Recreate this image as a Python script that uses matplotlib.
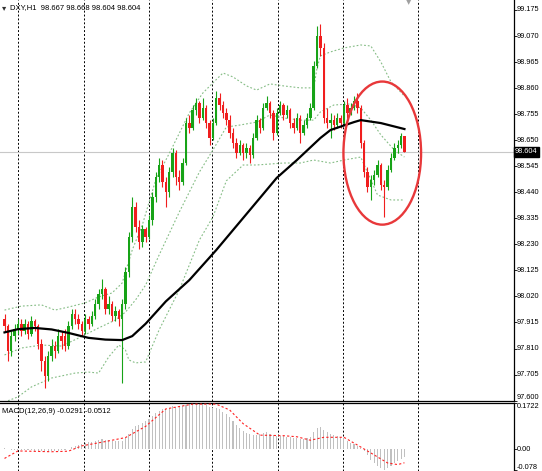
import matplotlib
matplotlib.use("Agg")
import matplotlib.pyplot as plt
import matplotlib.transforms as mtransforms
from matplotlib.patches import Ellipse
import numpy as np

# ---------------- data ----------------
opens = [97.93,97.90,97.80,97.86,97.89,97.91,97.88,97.91,97.87,97.92,
         97.90,97.83,97.76,97.70,97.78,97.82,97.80,97.86,97.86,97.82,
         97.90,97.95,97.93,97.91,97.88,97.93,97.91,97.94,97.99,98.03,
         98.05,97.97,97.99,97.94,97.96,97.93,97.99,98.12,98.26,98.38,
         98.30,98.24,98.29,98.26,98.33,98.42,98.50,98.55,98.48,98.44,
         98.52,98.60,98.50,98.48,98.56,98.72,98.70,98.77,98.80,98.74,
         98.78,98.72,98.66,98.72,98.82,98.79,98.76,98.73,98.68,98.64,
         98.60,98.63,98.60,98.62,98.59,98.66,98.73,98.70,98.78,98.80,
         98.76,98.68,98.76,98.79,98.75,98.77,98.72,98.70,98.74,98.68,
         98.71,98.74,98.78,98.95,99.07,99.02,98.74,98.72,98.73,98.71,
         98.74,98.72,98.79,98.76,98.78,98.81,98.78,98.64,98.52,98.46,
         98.49,98.51,98.55,98.47,98.46,98.53,98.58,98.62,98.63,98.667]
highs = [97.95,97.91,97.88,97.91,97.93,97.93,97.93,97.92,97.94,97.93,
         97.91,97.85,97.78,97.80,97.85,97.84,97.89,97.88,97.89,97.92,
         97.97,97.97,97.95,97.92,97.95,97.94,97.96,98.01,98.05,98.09,
         98.06,98.02,98.00,97.98,97.97,98.01,98.14,98.28,98.42,98.40,
         98.33,98.31,98.30,98.35,98.44,98.52,98.58,98.57,98.50,98.54,
         98.62,98.61,98.53,98.58,98.74,98.75,98.79,98.82,98.81,98.82,
         98.79,98.73,98.74,98.85,98.84,98.81,98.78,98.75,98.70,98.66,
         98.65,98.64,98.64,98.63,98.68,98.75,98.74,98.80,98.83,98.81,
         98.77,98.78,98.81,98.80,98.79,98.78,98.74,98.76,98.75,98.73,
         98.76,98.80,98.97,99.11,99.12,99.04,98.78,98.76,98.75,98.76,
         98.75,98.81,98.82,98.80,98.83,98.84,98.79,98.65,98.54,98.51,
         98.53,98.57,98.56,98.49,98.55,98.60,98.64,98.65,98.68,98.668]
lows = [97.88,97.76,97.78,97.84,97.87,97.86,97.87,97.85,97.86,97.88,
        97.81,97.72,97.65,97.68,97.76,97.77,97.79,97.81,97.80,97.81,
        97.89,97.91,97.89,97.86,97.87,97.89,97.90,97.93,97.97,98.01,
        97.95,97.95,97.92,97.92,97.90,97.67,97.97,98.10,98.24,98.28,
        98.21,98.22,98.24,98.25,98.31,98.40,98.48,98.46,98.38,98.42,
        98.50,98.47,98.45,98.47,98.55,98.68,98.69,98.75,98.72,98.73,
        98.70,98.63,98.65,98.71,98.77,98.74,98.71,98.66,98.62,98.58,
        98.59,98.57,98.58,98.56,98.58,98.65,98.68,98.69,98.77,98.74,
        98.65,98.67,98.75,98.73,98.74,98.70,98.68,98.69,98.64,98.67,
        98.70,98.73,98.77,98.94,98.99,98.72,98.70,98.66,98.69,98.70,
        98.70,98.71,98.74,98.75,98.77,98.76,98.62,98.50,98.44,98.41,
        98.47,98.50,98.45,98.34,98.45,98.52,98.57,98.60,98.62,98.604]
closes = [97.90,97.80,97.86,97.89,97.91,97.88,97.91,97.87,97.92,97.90,
          97.83,97.76,97.70,97.78,97.82,97.80,97.86,97.84,97.82,97.90,
          97.95,97.93,97.91,97.88,97.93,97.91,97.94,97.99,98.03,98.05,
          97.97,97.99,97.94,97.96,97.93,97.99,98.12,98.26,98.38,98.30,
          98.24,98.29,98.26,98.33,98.42,98.50,98.55,98.48,98.44,98.52,
          98.60,98.50,98.48,98.56,98.72,98.70,98.77,98.80,98.74,98.78,
          98.72,98.66,98.72,98.82,98.79,98.76,98.73,98.68,98.64,98.60,
          98.63,98.60,98.62,98.59,98.66,98.73,98.70,98.78,98.80,98.76,
          98.68,98.76,98.79,98.75,98.77,98.72,98.70,98.74,98.68,98.71,
          98.74,98.78,98.95,99.07,99.02,98.74,98.72,98.73,98.71,98.74,
          98.72,98.79,98.76,98.78,98.81,98.78,98.64,98.52,98.46,98.49,
          98.51,98.55,98.47,98.46,98.53,98.58,98.62,98.63,98.667,98.604]

# moving average (black), read at sample bars
ma_idx = [0, 4, 9, 14, 19, 25, 30, 35, 38, 42, 48, 55, 63, 70, 76, 81, 87, 94, 97, 104, 106, 112, 119]
ma_val = [97.875, 97.888, 97.893, 97.887, 97.873, 97.853, 97.846, 97.844, 97.860, 97.910,
          98.000, 98.086, 98.207, 98.320, 98.417, 98.498, 98.570, 98.659, 98.691, 98.723,
          98.731, 98.719, 98.695]

# Bollinger bands (dotted green), read at sample bars
up_idx = [0, 5, 11, 15, 19, 24, 28, 32, 35, 38, 41, 45, 50, 55, 59, 62, 65, 68, 72, 75,
          79, 83, 88, 92, 93, 94, 97, 101, 106, 109, 112, 115, 119]
up_val = [97.965, 97.981, 97.986, 97.965, 97.977, 97.994, 98.018, 98.034, 98.074, 98.207,
          98.308, 98.490, 98.623, 98.760, 98.840, 98.881, 98.921, 98.905, 98.869, 98.852,
          98.877, 98.869, 98.861, 98.861, 98.941, 98.990, 99.006, 99.022, 99.034, 99.030,
          98.965, 98.885, 98.828]
mid_idx = [0, 5, 11, 17, 22, 28, 33, 36, 39, 42, 46, 52, 58, 62, 66, 70, 75, 79, 83, 88,
           92, 94, 98, 103, 106, 109, 112, 116, 119]
mid_val = [97.784, 97.812, 97.824, 97.820, 97.852, 97.893, 97.925, 97.957, 98.006, 98.066,
           98.187, 98.360, 98.522, 98.610, 98.703, 98.711, 98.723, 98.752, 98.740, 98.731,
           98.731, 98.764, 98.792, 98.796, 98.780, 98.731, 98.671, 98.610, 98.582]
lo_idx = [0, 4, 8, 14, 21, 25, 28, 31, 34, 36, 37, 39, 42, 46, 52, 58, 62, 66, 71, 75,
          83, 88, 92, 97, 101, 106, 109, 111, 115, 119]
lo_val = [97.594, 97.615, 97.655, 97.691, 97.711, 97.715, 97.711, 97.776, 97.824, 97.804,
          97.764, 97.752, 97.756, 97.885, 98.046, 98.248, 98.340, 98.486, 98.550, 98.550,
          98.558, 98.558, 98.570, 98.558, 98.570, 98.582, 98.490, 98.429, 98.409, 98.409]

# MACD main (histogram) per bar and signal line at sample bars
macd_hist = [0.004, 0.002, -0.002, -0.003,
             -0.004, -0.003, -0.002, -0.004, -0.005, -0.006, -0.007, -0.009, -0.012, -0.011,
             -0.009, -0.008, -0.006, -0.004, -0.002, 0.001,
             0.006, 0.010, 0.014, 0.018,
             0.022, 0.025, 0.028, 0.031, 0.034, 0.037, 0.035, 0.034, 0.032, 0.031, 0.029, 0.030,
             0.040, 0.058, 0.076, 0.085, 0.090, 0.097, 0.104, 0.112,
             0.122, 0.133, 0.143, 0.148, 0.150,
             0.154, 0.160, 0.158, 0.156, 0.160, 0.166, 0.169, 0.171, 0.172, 0.170, 0.168, 0.164,
             0.158, 0.154, 0.152, 0.148,
             0.140, 0.130, 0.118, 0.104, 0.090, 0.078,
             0.068, 0.060, 0.055, 0.053, 0.054,
             0.056, 0.060, 0.062, 0.058, 0.052, 0.050, 0.050, 0.048, 0.046, 0.044, 0.042, 0.041,
             0.038, 0.038, 0.040,
             0.046, 0.062, 0.078, 0.082, 0.072, 0.064,
             0.058, 0.052, 0.048, 0.044, 0.040, 0.030, 0.024, 0.018, 0.012, 0.004,
             -0.006, -0.024, -0.040, -0.053, -0.063, -0.071, -0.078,
             -0.072, -0.063, -0.053, -0.044, -0.036, -0.0291]
sig_idx = [0, 4, 14, 19, 23, 30, 36, 42, 48, 56, 63, 67, 71, 76, 83, 87, 91, 95, 101, 105,
           110, 114, 117, 119]
sig_val = [-0.035, -0.007, -0.010, -0.008, 0.012, 0.028, 0.043, 0.085, 0.150, 0.168,
           0.168, 0.146, 0.095, 0.052, 0.050, 0.046, 0.033, 0.044, 0.044, 0.015,
           -0.022, -0.052, -0.058, -0.0512]

price_ticks = [99.175, 99.070, 98.965, 98.860, 98.755, 98.650, 98.545, 98.440,
               98.335, 98.230, 98.125, 98.020, 97.915, 97.810, 97.705, 97.600]
macd_ticks = [0.1722, 0.00, -0.078]
macd_tick_labels = ["0.1722", "0.00", "-0.078"]
grid_bars = [4.1, 23.7, 43.1, 61.7, 81.3, 100.6, 123.0]
last_price = 98.604
title_text = "DXY,H1  98.667 98.668 98.604 98.604"
macd_title = "MACD(12,26,9) -0.0291 -0.0512"

# ---------------- figure ----------------
FONT = ["Liberation Sans", "DejaVu Sans"]
plt.rcParams["font.family"] = FONT
FS = 5.3
fig = plt.figure(figsize=(5.42, 4.71), dpi=100)
ax = fig.add_axes([0, 70 / 471, 514 / 542, 401 / 471])
mx = fig.add_axes([0, 0, 514 / 542, 68 / 471])

XL = (-1.34, 151.6)
o = np.array(opens); h = np.array(highs); l = np.array(lows); c = np.array(closes)
x = np.arange(len(c))
up = c >= o
GREEN = "#17a317"
RED = "#f01e1e"
cols = np.where(up, GREEN, RED)

# grid
for gb in grid_bars:
    for a in (ax, mx):
        a.axvline(gb, color="black", lw=0.7, ls=(0, (2, 2)), zorder=0)

# current price line
ax.axhline(last_price, color="#c8c8c8", lw=0.8, zorder=1)

# candles
ax.vlines(x, l, h, colors=cols, lw=0.8, zorder=3)
body = np.maximum(np.abs(c - o), 0.004)
ax.bar(x, body, bottom=np.minimum(o, c), width=0.72, color=cols, lw=0, zorder=4)

# bands
for bi, bv in ((up_idx, up_val), (mid_idx, mid_val), (lo_idx, lo_val)):
    ax.plot(bi, bv, color="#86bd86", lw=0.8, ls=(0, (1.6, 1.8)), zorder=2)

# moving average
ax.plot(ma_idx, ma_val, color="black", lw=1.6, zorder=5, solid_joinstyle="round")

# ellipse annotation
ax.add_patch(Ellipse((112.4, 98.598), width=23.1, height=0.577, fill=False,
                     ec="#e8383a", lw=1.7, zorder=6))

ax.set_xlim(*XL)
ax.set_ylim(97.5984, 99.2153)
ax.set_xticks([])
ax.yaxis.tick_right()
ax.set_yticks(price_ticks)
ax.set_yticklabels([])
ax.tick_params(axis="y", length=2.5, width=0.6, colors="black")
for s in ("left", "top"):
    ax.spines[s].set_visible(False)
for s in ("right", "bottom"):
    ax.spines[s].set_color("black")
    ax.spines[s].set_linewidth(0.9)

trans = mtransforms.blended_transform_factory(ax.transAxes, ax.transData)
for v in price_ticks:
    ax.text(1.006, v, f"{v:.3f}", transform=trans, ha="left",
            va="bottom" if v == price_ticks[-1] else "center",
            fontsize=FS, clip_on=False)
ax.text(1.002, last_price, f"{last_price:.3f}", transform=trans, ha="left", va="center",
        color="white", fontsize=FS,
        bbox=dict(boxstyle="square,pad=0.2", fc="black", ec="black"), zorder=10, clip_on=False)

ax.text(0.004, 0.982, "\u25be", transform=ax.transAxes, fontsize=6, color="#333333",
        ha="left", va="center", family=["DejaVu Sans"])
ax.text(0.019, 0.982, title_text, transform=ax.transAxes, fontsize=5.5, color="black",
        ha="left", va="center")
ax.text(409 / 514, 0.995, "\u25bc", transform=ax.transAxes, fontsize=5, color="#a0a0a0",
        ha="center", va="center", family=["DejaVu Sans"])

# MACD panel
mx.bar(x, macd_hist, width=0.32, color="#c0c0c0", lw=0, zorder=2)
mx.plot(sig_idx, sig_val, color="#ff2020", lw=0.8, ls=(0, (2, 2)), zorder=3)
mx.set_xlim(*XL)
mx.set_ylim(-0.082, 0.1722)
mx.set_xticks([])
mx.yaxis.tick_right()
mx.set_yticks(macd_ticks)
mx.set_yticklabels([])
mx.tick_params(axis="y", length=2.5, width=0.6, colors="black")
for s in ("left", "bottom"):
    mx.spines[s].set_visible(False)
for s in ("right", "top"):
    mx.spines[s].set_color("black")
    mx.spines[s].set_linewidth(0.9)
mtrans = mtransforms.blended_transform_factory(mx.transAxes, mx.transData)
label_va = ["top", "center", "bottom"]
label_y = [0.1722, 0.00, -0.0815]
for v, lab, va in zip(label_y, macd_tick_labels, label_va):
    mx.text(1.006, v, lab, transform=mtrans, ha="left", va=va, fontsize=FS, clip_on=False)
mx.text(0.004, 0.87, macd_title, transform=mx.transAxes, fontsize=5.5, ha="left", va="center")

fig.savefig("out.png", dpi=100, facecolor="white")
